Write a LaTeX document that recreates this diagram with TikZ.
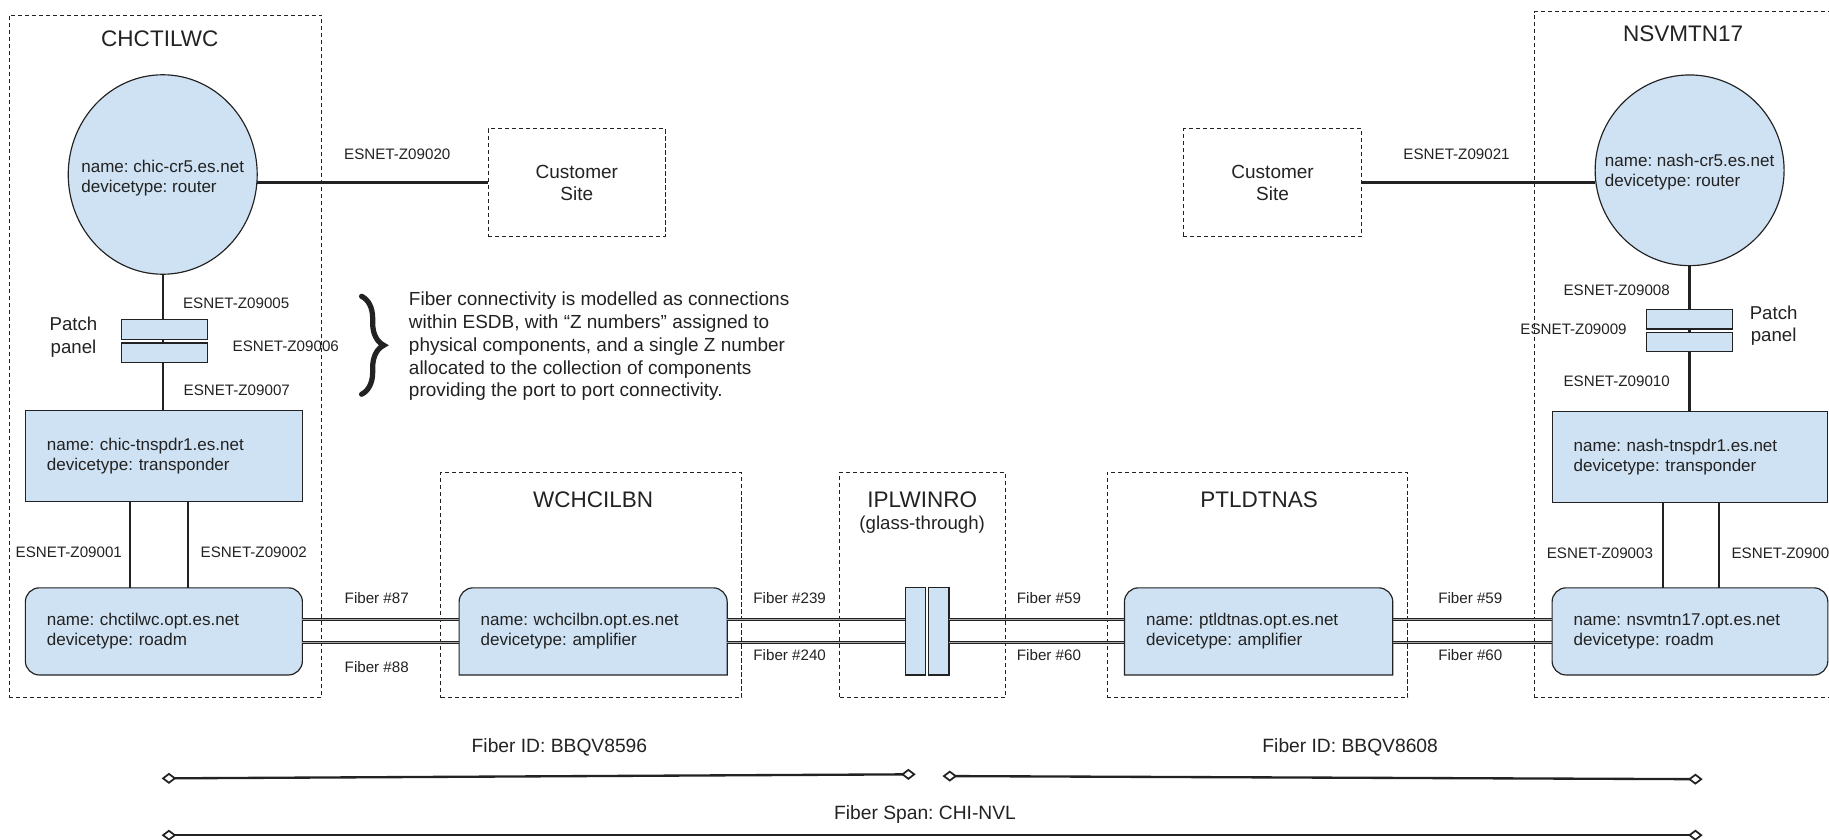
\documentclass[tikz,border=0pt]{standalone}
\usepackage{fontspec}
\setmainfont{Liberation Sans}
\usetikzlibrary{shapes.geometric,arrows.meta,decorations.pathreplacing,backgrounds}
\definecolor{devfill}{HTML}{CFE2F3}
\definecolor{ink}{HTML}{222222}
\frenchspacing

\begin{document}
\begin{tikzpicture}[x=1pt,y=-1pt,
  every node/.style={text=ink, inner sep=0pt, outer sep=0pt},
  site/.style={rectangle, draw=ink, line width=0.8pt, dash pattern=on 3.5pt off 2.5pt},
  sitetitle/.style={font=\fontsize{19.3}{22}\selectfont},
  zlabel/.style={font=\fontsize{13}{15}\selectfont},
  devtext/.style={font=\fontsize{14.6}{17.1}\selectfont, align=left},
  router/.style={ellipse, draw=ink, line width=1pt, fill=devfill},
  devbox/.style={rectangle, draw=ink, line width=1pt, fill=devfill, devtext,
                 inner xsep=18.5pt, minimum height=74.7pt},
  roadm/.style={devbox, rounded corners=12pt},
  ampbox/.style={rectangle, devtext, inner xsep=18.5pt, minimum height=74.7pt},
  ampline/.style={draw=ink, line width=1pt, fill=devfill},
  patch/.style={rectangle, draw=ink, line width=1pt, fill=devfill, minimum width=74pt},
  glass/.style={rectangle, draw=ink, line width=1pt, fill=devfill, minimum height=74.7pt},
  customer/.style={site, align=center, font=\fontsize{16.3}{19}\selectfont,
                   minimum height=92pt},
  sidetext/.style={align=center, font=\fontsize{16}{19}\selectfont},
  wire/.style={draw=ink, line width=2pt},
  fiber/.style={draw=ink, line width=0.9pt, double=black!35, double distance=0.9pt},
  spantip/.tip={Diamond[open, length=12.5pt, width=9.5pt, line width=1.5pt]},
  span/.style={draw=ink, line width=2pt, spantip-spantip},
  spanlabel/.style={font=\fontsize{16.5}{19}\selectfont},
]
\path[use as bounding box] (0,0) rectangle (1568,720);
\clip (0,0) rectangle (1568,720);

% ---------- site outlines ----------
\node[site, minimum width=268pt, minimum height=585pt] (siteA) at (142,305.5) {};
\node[site, minimum width=258pt, minimum height=193pt] (siteB) at (507,501.5) {};
\node[site, minimum width=142pt, minimum height=193pt] (siteC) at (791,501.5) {};
\node[site, minimum width=258pt, minimum height=193pt] (siteD) at (1078,501.5) {};
\node[site, minimum width=274.6pt, minimum height=587.7pt] (siteE) at (1452.7,303.9) {};

\node[sitetitle] (tA) at (137,33) {CHCTILWC};
\node[sitetitle] (tE) at (1443,28.6) {NSVMTN17};
\node[sitetitle] (tB) at (508.5,428.6) {WCHCILBN};
\node[sitetitle] (tC) at (790.6,428.6) {IPLWINRO};
\node[font=\fontsize{16}{19}\selectfont] (tC2) at (790.6,450) {(glass-through)};
\node[sitetitle] (tD) at (1079.4,428.6) {PTLDTNAS};

% ---------- customer sites ----------
\node[customer, minimum width=152pt] (custA) at (494.5,156.5) {Customer\\Site};
\node[customer, minimum width=153pt] (custB) at (1091,156.5) {Customer\\Site};

% ---------- routers ----------
\node[router, minimum width=162pt, minimum height=171pt] (rtrA) at (139.5,149.6) {};
\node[devtext] (rtrAtxt) at (139.5,152.5) {name: chic-cr5.es.net\\devicetype: router};
\node[router, minimum width=162pt, minimum height=163.5pt] (rtrB) at (1448.5,146) {};
\node[devtext] (rtrBtxt) at (1448.5,147.8) {name: nash-cr5.es.net\\devicetype: router};

% ---------- patch panels ----------
\node[patch, minimum height=17.2pt] (ppA1) at (141,282.2) {};
\node[patch, minimum height=17pt] (ppA2) at (141,302.5) {};
\node[sidetext] (ppAlbl) at (63,289) {Patch\\panel};
\node[patch, minimum height=17pt] (ppB1) at (1448.5,273.5) {};
\node[patch, minimum height=16.5pt] (ppB2) at (1448.5,293) {};
\node[sidetext] (ppBlbl) at (1520.5,279) {Patch\\panel};

% ---------- transponders and roadms ----------
\node[devbox, text width=200.5pt, minimum height=78pt] (tpA) at (140.5,391)
  {name: chic-tnspdr1.es.net\\devicetype: transponder};
\node[roadm, text width=200.5pt] (rdA) at (140.5,541.3)
  {name: chctilwc.opt.es.net\\devicetype: roadm};
\node[devbox, text width=199.4pt, minimum height=77.7pt] (tpE) at (1448.8,391.8)
  {name: nash-tnspdr1.es.net\\devicetype: transponder};
\node[roadm, text width=199.4pt] (rdE) at (1448.8,541.3)
  {name: nsvmtn17.opt.es.net\\devicetype: roadm};

% ---------- amplifiers (rounded top, square bottom) ----------
\node[ampbox, text width=192.8pt] (ampB) at (508.5,541.3)
  {name: wchcilbn.opt.es.net\\devicetype: amplifier};
\node[ampbox, text width=193pt] (ampD) at (1079,541.3)
  {name: ptldtnas.opt.es.net\\devicetype: amplifier};
\begin{pgfonlayer}{background}
  \foreach \amp in {ampB,ampD}{
    \draw[ampline] (\amp.south west) -- ([yshift=-12pt]\amp.north west)
      arc[start angle=180, end angle=90, radius=12pt]
      -- ([xshift=-12pt]\amp.north east)
      arc[start angle=90, end angle=0, radius=12pt]
      -- (\amp.south east) -- cycle;
  }
\end{pgfonlayer}

% ---------- glass-through couplers ----------
\node[glass, minimum width=17.6pt] (gl1) at (784.8,541.3) {};
\node[glass, minimum width=17.9pt] (gl2) at (804.6,541.3) {};

% ---------- router / patch / transponder links ----------
\draw[wire] (custA.west) -- (custA.west -| rtrA.east);
\draw[wire] (custB.east) -- (custB.east -| rtrB.west);
\draw[wire] (rtrA.south) -- (rtrA.south |- ppA1.north);
\draw[wire] (ppA1.south -| rtrA.south) -- (ppA2.north -| rtrA.south);
\draw[wire] (ppA2.south -| rtrA.south) -- (tpA.north -| rtrA.south);
\draw[wire] (rtrB.south) -- (rtrB.south |- ppB1.north);
\draw[wire] (ppB1.south -| rtrB.south) -- (ppB2.north -| rtrB.south);
\draw[wire] (ppB2.south -| rtrB.south) -- (tpE.north -| rtrB.south);
\draw[wire] (111.4,0 |- tpA.south) -- (111.4,0 |- rdA.north);
\draw[wire] (161.2,0 |- tpA.south) -- (161.2,0 |- rdA.north);
\draw[wire] (1425.4,0 |- tpE.south) -- (1425.4,0 |- rdE.north);
\draw[wire] (1473.6,0 |- tpE.south) -- (1473.6,0 |- rdE.north);

% ---------- fibre pairs ----------
\foreach \a/\b in {rdA/ampB, ampB/gl1, gl2/ampD, ampD/rdE}{
  \draw[fiber] ([yshift=10.3pt]\a.east) -- ([yshift=10.3pt]\b.west);
  \draw[fiber] ([yshift=-9.2pt]\a.east) -- ([yshift=-9.2pt]\b.west);
}

% ---------- Z numbers ----------
\node[zlabel] (z20) at (340.6,132) {ESNET-Z09020};
\node[zlabel] (z21) at (1248.7,132) {ESNET-Z09021};
\node[zlabel] (z05) at (202.5,259.6) {ESNET-Z09005};
\node[zlabel] (z06) at (245,296.6) {ESNET-Z09006};
\node[zlabel] (z07) at (203,335) {ESNET-Z09007};
\node[zlabel] (z08) at (1386,249) {ESNET-Z09008};
\node[zlabel] (z09) at (1349,282.3) {ESNET-Z09009};
\node[zlabel] (z10) at (1386,327) {ESNET-Z09010};
\node[zlabel] (z01) at (59,473.8) {ESNET-Z09001};
\node[zlabel] (z02) at (217.6,473.8) {ESNET-Z09002};
\node[zlabel] (z03) at (1371.6,474) {ESNET-Z09003};
\node[zlabel, anchor=west] (z04) at (1484.5,474) {ESNET-Z0900};

% ---------- fibre numbers ----------
\node[zlabel] (f87) at (323,513) {Fiber \#87};
\node[zlabel] (f88) at (323,571.5) {Fiber \#88};
\node[zlabel] (f239) at (677,513) {Fiber \#239};
\node[zlabel] (f240) at (677,561.5) {Fiber \#240};
\node[zlabel] (f59a) at (899.3,513) {Fiber \#59};
\node[zlabel] (f60a) at (899.3,561.5) {Fiber \#60};
\node[zlabel] (f59b) at (1260.5,513) {Fiber \#59};
\node[zlabel] (f60b) at (1260.5,561.5) {Fiber \#60};

% ---------- explanatory note ----------
\coordinate (bTop) at (310,254);
\coordinate (bBot) at (310,338);
\draw[ink, line width=4.5pt, line cap=round, decorate, decoration={brace, amplitude=19pt}]
  (bTop) -- (bBot);
\node[anchor=west, align=left, font=\fontsize{16.25}{19.5}\selectfont] (note) at (350.6,297)
  {Fiber connectivity is modelled as connections\\
   within ESDB, with “Z numbers” assigned to\\
   physical components, and a single Z number\\
   allocated to the collection of components\\
   providing the port to port connectivity.};

% ---------- fibre spans ----------
\coordinate (s1a) at (138.6,667.3);
\coordinate (s1b) at (785,663.8);
\coordinate (s2a) at (808,665.3);
\coordinate (s2b) at (1459.7,668);
\coordinate (s3a) at (138.6,716);
\coordinate (s3b) at (1459.7,716);
\draw[span] (s1a) -- (s1b);
\draw[span] (s2a) -- (s2b);
\draw[span] (s3a) -- (s3b);
\node[spanlabel] (id1) at (479.6,640.7) {Fiber ID: BBQV8596};
\node[spanlabel] (id2) at (1157.5,640.7) {Fiber ID: BBQV8608};
\node[spanlabel] (spn) at (793,698) {Fiber Span: CHI-NVL};
\end{tikzpicture}
\end{document}
